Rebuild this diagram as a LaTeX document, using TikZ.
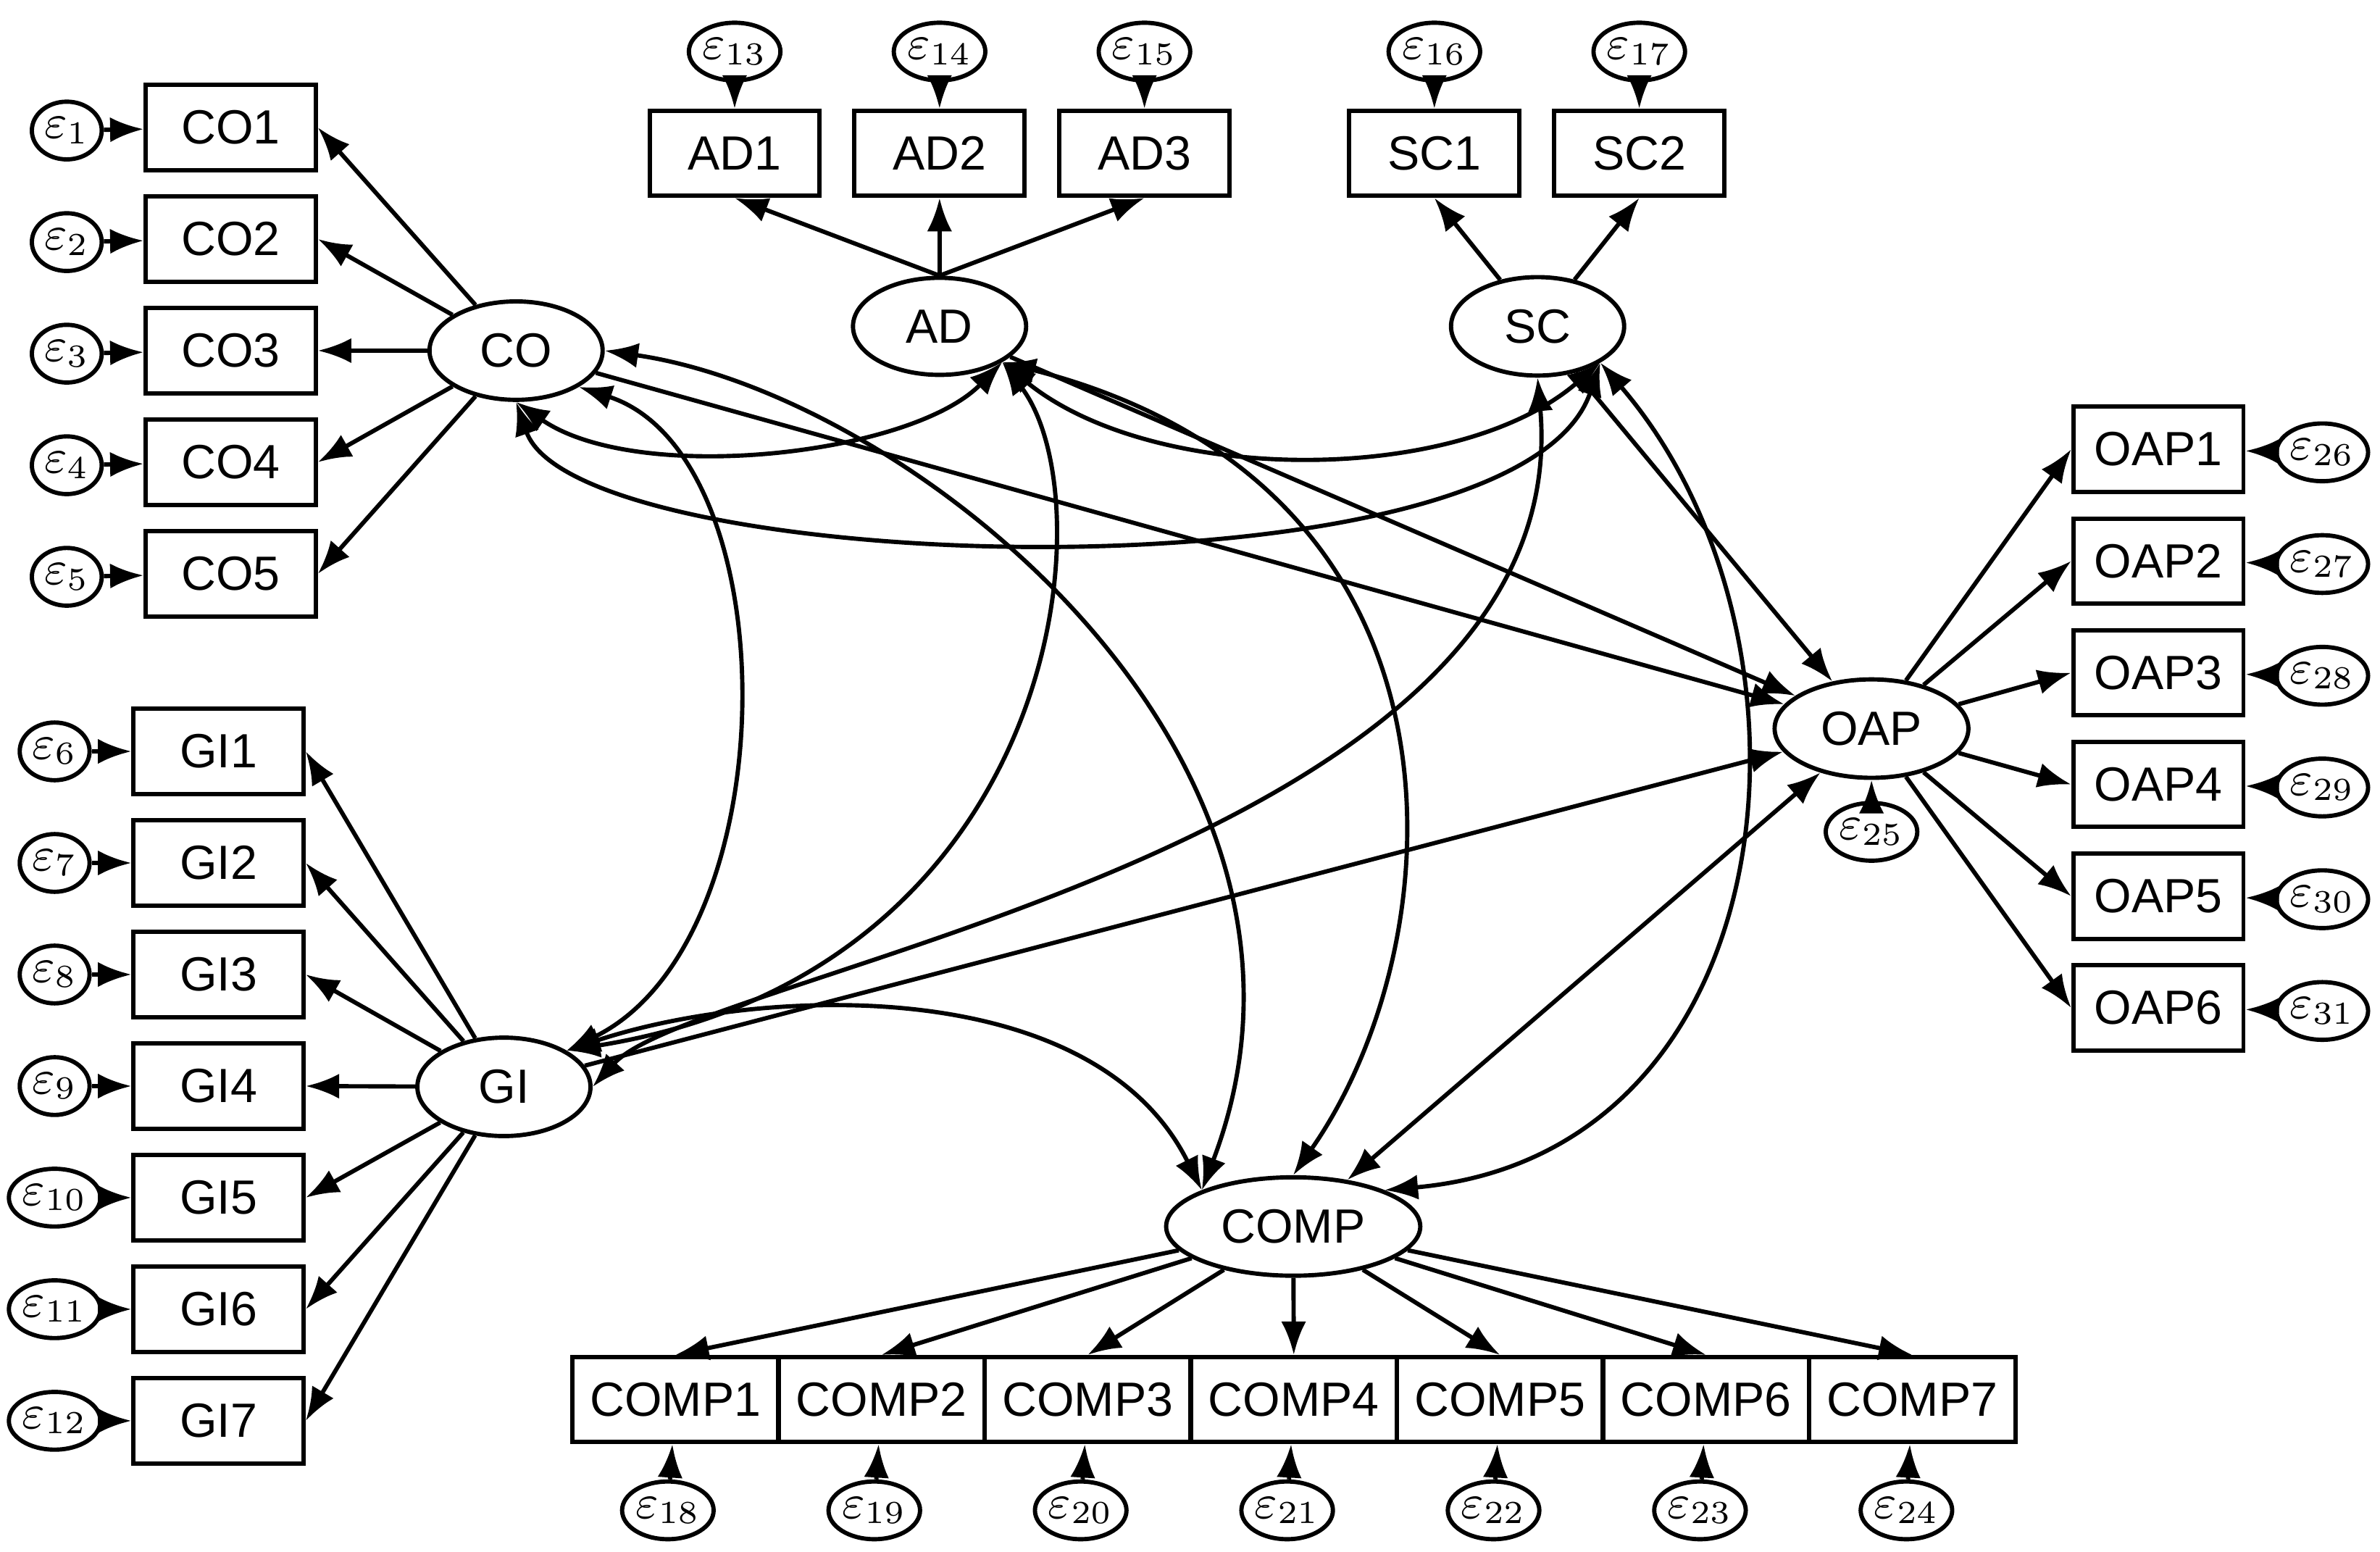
\documentclass[tikz,border=0pt]{standalone}
\usepackage{fontspec}
\setmainfont{Liberation Sans}
\usetikzlibrary{arrows.meta,shapes.geometric}
\tikzset{
  ind/.style={draw, thick, minimum width=1.12cm, minimum height=0.56cm, font=\small},
  lat/.style={draw, thick, ellipse, minimum width=1.14cm, minimum height=0.5cm, font=\small},
  err/.style={draw, thick, ellipse, minimum width=0.46cm, minimum height=0.38cm, inner sep=0pt, font=\small},
  path/.style={-{Latex[length=2.2mm]}, thick},
  cov/.style={{Latex[length=2.2mm]}-{Latex[length=2.2mm]}, thick}
}
\begin{document}
\begin{tikzpicture}[x=0.01cm, y=-0.01cm]
    \useasboundingbox (0,0) rectangle (1568,1022);
    % Latente
    \node[lat] (CO) at (340,231) {CO};
    \node[lat] (GI) at (332,716) {GI};
    \node[lat] (AD) at (619,215) {AD};
    \node[lat] (SC) at (1013,215) {SC};
    \node[lat] (OAP) at (1233,480) {OAP};
    \node[lat] (COMP) at (852,808) {COMP};

    % Indicatori CO e GI
    \foreach \i in {1,...,5} {
        \node[ind] (CO\i) at (152,{84+73.5*(\i-1)}) {CO\i};
        \node[err] (e\i) at (44,{86+73.5*(\i-1)}) {$\varepsilon_{\i}$};
        \draw[path] (e\i) -- (CO\i);
        \draw[path] (CO) -- (CO\i.east);
    }
    \foreach \i [evaluate=\i as \n using int(\i+5)] in {1,...,7} {
        \node[ind] (GI\i) at (144,{495+73.5*(\i-1)}) {GI\i};
        \node[err] (e\n) at (36,{495+73.5*(\i-1)}) {$\varepsilon_{\n}$};
        \draw[path] (e\n) -- (GI\i);
        \draw[path] (GI) -- (GI\i.east);
    }

    % Indicatori AD e SC
    \foreach \i [evaluate=\i as \n using int(\i+12)] in {1,2,3} {
        \node[ind] (AD\i) at ({484+135*(\i-1)},101) {AD\i};
        \node[err] (e\n) at ({484+135*(\i-1)},34) {$\varepsilon_{\n}$};
        \draw[path] (e\n) -- (AD\i);
        \draw[path] (AD.north) -- (AD\i.south);
    }
    \foreach \i [evaluate=\i as \n using int(\i+15)] in {1,2} {
        \node[ind] (SC\i) at ({945+135*(\i-1)},101) {SC\i};
        \node[err] (e\n) at ({945+135*(\i-1)},34) {$\varepsilon_{\n}$};
        \draw[path] (e\n) -- (SC\i);
        \draw[path] (SC) -- (SC\i.south);
    }

    % Indicatori COMP e OAP
    \foreach \i [evaluate=\i as \n using int(\i+17)] in {1,...,7} {
        \node[ind] (COMP\i) at ({445+135.8*(\i-1)},922) {COMP\i};
        \node[err] (e\n) at ({440+136*(\i-1)},995) {$\varepsilon_{\n}$};
        \draw[path] (e\n) -- (COMP\i);
        \draw[path] (COMP) -- (COMP\i.north);
    }
    \foreach \i [evaluate=\i as \n using int(\i+25)] in {1,...,6} {
        \node[ind] (OAP\i) at (1422,{296+73.6*(\i-1)}) {OAP\i};
        \node[err] (e\n) at (1530,{298+73.6*(\i-1)}) {$\varepsilon_{\n}$};
        \draw[path] (e\n) -- (OAP\i);
        \draw[path] (OAP) -- (OAP\i.west);
    }
    \node[err] (e25) at (1233,548) {$\varepsilon_{25}$};
    \draw[path] (e25) -- (OAP);

    % Effetti strutturali
    \draw[path] (CO) -- (OAP);
    \draw[path] (AD) -- (OAP);
    \draw[path] (SC) -- (OAP);
    \draw[path] (GI) -- (OAP);
    \draw[cov] (COMP) -- (OAP);

    % Covarianze
    \draw[cov] (CO.south) .. controls (420,320) and (600,300) .. (AD.south east);
    \draw[cov] (AD.south east) .. controls (760,320) and (960,320) .. (SC.south east);
    \draw[cov] (CO.south) .. controls (380,380) and (1000,400) .. (SC.south east);
    \draw[cov] (CO.south east) .. controls (520,300) and (520,620) .. (GI.north east);
    \draw[cov] (CO.east) .. controls (600,260) and (900,500) .. (COMP.north west);
    \draw[cov] (AD.south east) .. controls (730,330) and (700,640) .. (GI.north east);
    \draw[cov] (AD.south east) .. controls (980,320) and (960,620) .. (COMP.north);
    \draw[cov] (SC.south) .. controls (1040,560) and (460,640) .. (GI.east);
    \draw[cov] (SC.south east) .. controls (1210,420) and (1180,760) .. (COMP.north east);
    \draw[cov] (GI.north east) .. controls (500,650) and (720,640) .. (COMP.north west);
\end{tikzpicture}
\end{document}
